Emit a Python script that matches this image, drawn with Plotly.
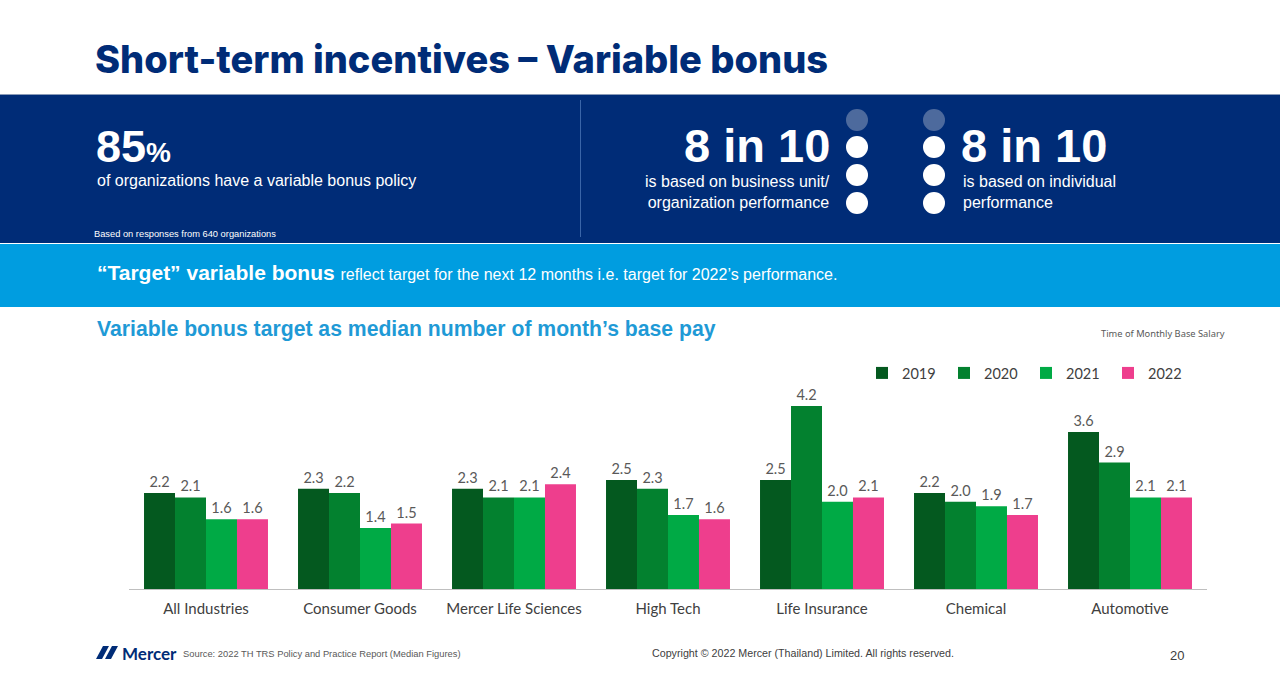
import plotly.graph_objects as go

W, H = 1280, 696
categories = ["All Industries", "Consumer Goods", "Mercer Life Sciences", "High Tech",
              "Life Insurance", "Chemical", "Automotive"]
years = ["2019", "2020", "2021", "2022"]
v2019 = [2.2, 2.3, 2.3, 2.5, 2.5, 2.2, 3.6]
v2020 = [2.1, 2.2, 2.1, 2.3, 4.2, 2.0, 2.9]
v2021 = [1.6, 1.4, 2.1, 1.7, 2.0, 1.9, 2.1]
v2022 = [1.6, 1.5, 2.4, 1.6, 2.1, 1.7, 2.1]
series = [v2019, v2020, v2021, v2022]
colors = ["#04591f", "#03812f", "#00aa45", "#ee3e8d"]

NAVY = "#002c77"
SANS = "Liberation Sans, Arial, sans-serif"
CHART_FONT = "Lato, Noto Sans, sans-serif"


def X(px):
    return px / W


def Y(py):
    return 1 - py / H


fig = go.Figure()
for yr, vals, col in zip(years, series, colors):
    fig.add_trace(go.Bar(
        x=categories, y=vals, name=yr, marker=dict(color=col, line=dict(width=0)),
        texttemplate="%{y:.1f}", textposition="outside", cliponaxis=False,
        textfont=dict(family=CHART_FONT, size=14.5, color="#595959"),
    ))

shapes = []
shapes.append(dict(type="rect", xref="paper", yref="paper", x0=0, x1=1, y0=Y(243), y1=Y(95),
                   fillcolor=NAVY, line=dict(width=0), layer="below"))
shapes.append(dict(type="line", xref="paper", yref="paper", x0=0, x1=1, y0=Y(94.5), y1=Y(94.5),
                   line=dict(color="#8a9bb8", width=1), layer="below"))
shapes.append(dict(type="line", xref="paper", yref="paper", x0=X(580.5), x1=X(580.5), y0=Y(100), y1=Y(237),
                   line=dict(color="#3a65a8", width=1), layer="below"))
shapes.append(dict(type="rect", xref="paper", yref="paper", x0=0, x1=1, y0=Y(307), y1=Y(244),
                   fillcolor="#009de0", line=dict(width=0), layer="below"))
for cx in (857, 934):
    for i, cy in enumerate((120, 147, 175, 203)):
        r = 11
        shapes.append(dict(type="circle", xref="paper", yref="paper",
                           x0=X(cx - r), x1=X(cx + r), y0=Y(cy + r), y1=Y(cy - r),
                           fillcolor="#4d6a9d" if i == 0 else "white", line=dict(width=0)))
# Mercer logo icon
shapes.append(dict(type="path", xref="paper", yref="paper",
                   path=f"M {X(96)} {Y(659)} L {X(103)} {Y(646)} L {X(109)} {Y(646)} L {X(102)} {Y(659)} Z",
                   fillcolor=NAVY, line=dict(width=0)))
shapes.append(dict(type="path", xref="paper", yref="paper",
                   path=f"M {X(105)} {Y(659)} L {X(112)} {Y(646)} L {X(118)} {Y(646)} L {X(111)} {Y(659)} Z",
                   fillcolor=NAVY, line=dict(width=0)))

ann = []


def text(x, y, t, size, color="white", xanchor="left", family=SANS, weight=None, align="left"):
    f = dict(family=family, size=size, color=color)
    if weight:
        f["weight"] = weight
    ann.append(dict(xref="paper", yref="paper", x=X(x), y=Y(y), text=t, showarrow=False,
                    xanchor=xanchor, yanchor="middle", align=align, font=f))


text(93, 59, "Short-term incentives – Variable bonus", 38, NAVY, family="Inter, Lato, sans-serif", weight=800)
text(94, 146, "<b>85<span style='font-size:28px'>%</span></b>", 45, "white")
text(95, 181, "of organizations have a variable bonus policy", 16, "white")
text(92, 234, "Based on responses from 640 organizations", 9.3, "white")
text(832, 145, "<b>8 in 10</b>", 47, "white", xanchor="right")
text(832, 192, "is based on business unit/<br>organization performance", 16, "white", xanchor="right", align="right")
text(959, 145, "<b>8 in 10</b>", 47, "white")
text(961, 192, "is based on individual<br>performance", 16, "white")
text(95, 273, "<b>“Target” variable bonus</b> <span style='font-size:16px'>reflect target for the next 12 months i.e. target for 2022’s performance.</span>",
     21, "white")
text(95, 329, "<b>Variable bonus target as median number of month’s base pay</b>", 21.2, "#1f9ad6")
text(1227, 333, "Time of Monthly Base Salary", 9.3, "#595959", xanchor="right", family="Noto Sans, sans-serif")
text(120, 653, "<b>Mercer</b>", 17, NAVY, family="Lato, sans-serif")
text(181, 654, "Source: 2022 TH TRS Policy and Practice Report (Median Figures)", 9.35, "#595959")
text(803, 653, "Copyright © 2022 Mercer (Thailand) Limited. All rights reserved.", 10.7, "#404040", xanchor="center")
text(1177, 655, "20", 13, "#404040", xanchor="center")

fig.update_layout(
    width=W, height=H, autosize=False,
    margin=dict(l=0, r=0, t=0, b=0, autoexpand=False),
    paper_bgcolor="white", plot_bgcolor="rgba(0,0,0,0)",
    barmode="group", bargap=0.195, bargroupgap=0,
    shapes=shapes, annotations=ann,
    showlegend=True,
    legend=dict(orientation="h", x=X(862), xanchor="left", y=Y(373), yanchor="middle",
                font=dict(family=CHART_FONT, size=14.5, color="#404040"),
                entrywidth=37, entrywidthmode="pixels", bgcolor="rgba(0,0,0,0)",
                traceorder="normal", itemclick=False, itemdoubleclick=False),
    xaxis=dict(domain=[X(129), X(1207)], showline=True, linecolor="#bfbfbf", linewidth=1,
               ticks="", ticklabelstandoff=6, tickfont=dict(family=CHART_FONT, size=15, color="#404040"),
               showgrid=False, fixedrange=True),
    yaxis=dict(domain=[Y(589), Y(371)], range=[0, 5], visible=False, showgrid=False, fixedrange=True),
)

fig.write_html("out.html", config={"displayModeBar": False},
               post_script="document.body.style.margin='0';")
